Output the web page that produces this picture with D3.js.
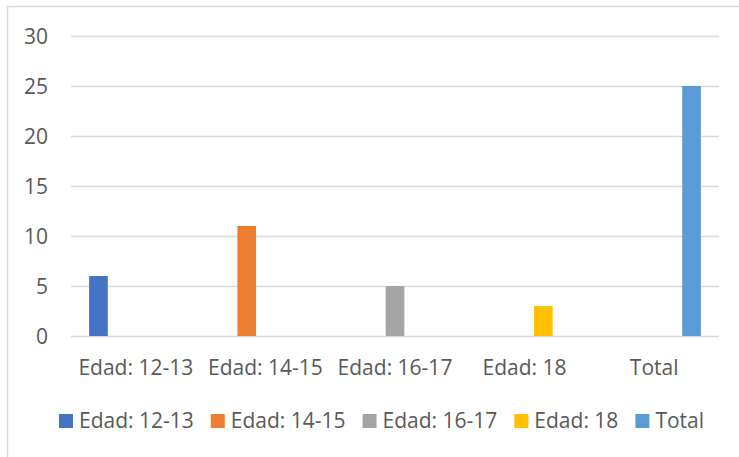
<!DOCTYPE html>
<html>
<head>
<meta charset="UTF-8">
<title>Edad</title>
<script src="https://cdnjs.cloudflare.com/ajax/libs/d3/7.8.5/d3.min.js"></script>
<style>
    body { margin: 0; background: #fff; }
    text { font-family: "Open Sans", sans-serif; fill: #595959; }
</style>
</head>
<body>
<svg id="chart" width="739" height="457"></svg>
<script>
// categorias del eje x
var categories = ["Edad: 12-13", "Edad: 14-15", "Edad: 16-17", "Edad: 18", "Total"];
// cada serie solo tiene valor en su propia categoria
var seriesNames = ["Edad: 12-13", "Edad: 14-15", "Edad: 16-17", "Edad: 18", "Total"];
var edad1213 = [6, null, null, null, null];
var edad1415 = [null, 11, null, null, null];
var edad1617 = [null, null, 5, null, null];
var edad18 = [null, null, null, 3, null];
var total = [null, null, null, null, 25];
var yTicks = [0, 5, 10, 15, 20, 25, 30];
var colors = ["#4472C4", "#ED7D31", "#A5A5A5", "#FFC000", "#5B9BD5"];

var seriesValues = [edad1213, edad1415, edad1617, edad18, total];
var fontSize = "21px";

var svg = d3.select("#chart");

// borde exterior del grafico
svg.append("rect")
    .attr("x", 7.5).attr("y", 6.5)
    .attr("width", 740).attr("height", 460)
    .attr("fill", "none")
    .attr("stroke", "#d9d9d9")
    .attr("stroke-width", 1.5);

var x0 = d3.scaleBand().domain(categories).range([71, 719]).padding(0);
var x1 = d3.scaleBand().domain(seriesNames).range([0, x0.bandwidth()])
    .paddingInner(0).paddingOuter(0.97);
var y = d3.scaleLinear().domain([0, 30]).range([336, 36]);

// lineas de cuadricula
svg.append("g").selectAll("line")
    .data(yTicks)
    .enter().append("line")
    .attr("x1", 71).attr("x2", 719)
    .attr("y1", function (d) { return Math.round(y(d)) + 0.5; })
    .attr("y2", function (d) { return Math.round(y(d)) + 0.5; })
    .attr("stroke", "#d9d9d9")
    .attr("stroke-width", 1.5);

// etiquetas del eje y
svg.append("g").selectAll("text")
    .data(yTicks)
    .enter().append("text")
    .attr("x", 48)
    .attr("y", function (d) { return y(d); })
    .attr("dy", "0.36em")
    .attr("text-anchor", "end")
    .style("font-size", fontSize)
    .text(function (d) { return d; });

// barras
seriesValues.forEach(function (vals, si) {
    svg.append("g").selectAll("rect")
        .data(vals.map(function (v, i) { return {cat: categories[i], v: v}; })
            .filter(function (d) { return d.v != null; }))
        .enter().append("rect")
        .attr("x", function (d) { return x0(d.cat) + x1(seriesNames[si]); })
        .attr("y", function (d) { return y(d.v); })
        .attr("width", x1.bandwidth())
        .attr("height", function (d) { return y(0) - y(d.v); })
        .attr("fill", colors[si]);
});

// etiquetas del eje x
svg.append("g").selectAll("text")
    .data(categories)
    .enter().append("text")
    .attr("x", function (d) { return x0(d) + x0.bandwidth() / 2; })
    .attr("y", 375)
    .attr("text-anchor", "middle")
    .style("font-size", fontSize)
    .text(function (d) { return d; });

// leyenda
var legend = svg.append("g");
var lx = 0;
seriesNames.forEach(function (name, i) {
    var item = legend.append("g").attr("transform", "translate(" + lx + ",0)");
    item.append("rect")
        .attr("x", 0).attr("y", 414)
        .attr("width", 14).attr("height", 14)
        .attr("fill", colors[i]);
    var t = item.append("text")
        .attr("x", 20).attr("y", 428)
        .style("font-size", fontSize)
        .text(name);
    lx += 20 + t.node().getComputedTextLength() + 17;
});
var legendWidth = lx - 17;
legend.attr("transform", "translate(" + (381.5 - legendWidth / 2) + ",0)");
</script>
</body>
</html>
